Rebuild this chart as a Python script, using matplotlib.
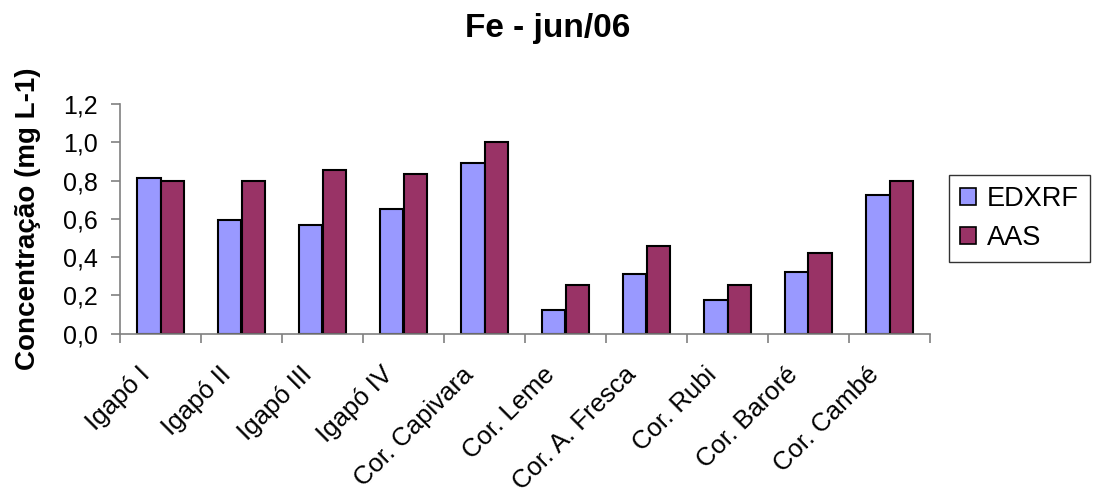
import matplotlib
matplotlib.use("Agg")
import matplotlib.pyplot as plt
import matplotlib.transforms as mtrans
import numpy as np

plt.rcParams['font.family'] = ['Liberation Sans', 'DejaVu Sans']

categories = ["Igapó I", "Igapó II", "Igapó III", "Igapó IV", "Cor. Capivara",
              "Cor. Leme", "Cor. A. Fresca", "Cor. Rubi", "Cor. Baroré", "Cor. Cambé"]
edxrf = [0.815, 0.595, 0.57, 0.65, 0.89, 0.125, 0.31, 0.175, 0.32, 0.725]
aas = [0.80, 0.80, 0.855, 0.835, 1.00, 0.255, 0.46, 0.255, 0.42, 0.80]
yticks = [0.0, 0.2, 0.4, 0.6, 0.8, 1.0, 1.2]
ytick_labels = ["0,0", "0,2", "0,4", "0,6", "0,8", "1,0", "1,2"]

W, H = 1097, 504
fig = plt.figure(figsize=(W/100, H/100), dpi=100)
ax = fig.add_axes([120/W, 1 - 333.7/H, 810/W, (333.7 - 104)/H])

x = np.arange(len(categories))
w = 0.284
ax.bar(x - w/2, edxrf, w, color="#9999FF", edgecolor="black", linewidth=1.5, label="EDXRF")
ax.bar(x + w/2, aas, w, color="#993366", edgecolor="black", linewidth=1.5, label="AAS")

ax.set_xlim(-0.5, len(categories) - 0.5)
ax.set_ylim(0, 1.2)
ax.set_yticks(yticks)
ax.set_yticklabels(ytick_labels, fontsize=18)

ax.set_xticks(np.arange(len(categories) + 1) - 0.5)
ax.set_xticklabels([])
ax.set_xticks(x, minor=True)
ax.set_xticklabels(categories, minor=True, rotation=45, ha='right', va='baseline',
                   rotation_mode='anchor', fontsize=18.5)
ax.tick_params(axis='x', which='minor', length=0, pad=30.5)
ax.tick_params(axis='x', which='major', length=6.5, color='#808080', width=1.2)
ax.tick_params(axis='y', length=6.5, color='#808080', width=1.2, pad=9.4)
off = mtrans.ScaledTranslation(-9.5/100, 0, fig.dpi_scale_trans)
for lab in ax.get_xticklabels(minor=True):
    lab.set_transform(lab.get_transform() + off)

for s in ['top', 'right']:
    ax.spines[s].set_visible(False)
for s in ['left', 'bottom']:
    ax.spines[s].set_color('#808080')
    ax.spines[s].set_linewidth(1.2)

ax.set_ylabel("Concentração (mg L-1)", fontsize=20, fontweight='bold')
ax.yaxis.set_label_coords(-0.097, 0.5)
fig.text(548/W, 1 - 37/H, "Fe - jun/06", fontsize=24, fontweight='bold',
         ha='center', va='baseline')

leg = ax.legend(loc='upper left', bbox_to_anchor=(949/W, 1 - 175/H),
                bbox_transform=fig.transFigure, fontsize=19.5, frameon=True,
                fancybox=False, edgecolor='black', handlelength=0.6, handleheight=0.6,
                handletextpad=0.4, borderpad=0.4, labelspacing=0.48, borderaxespad=0)
leg.get_frame().set_linewidth(1.0)
for p in leg.get_patches():
    p.set_linewidth(1.2)

fig.savefig("out.png", dpi=100)
